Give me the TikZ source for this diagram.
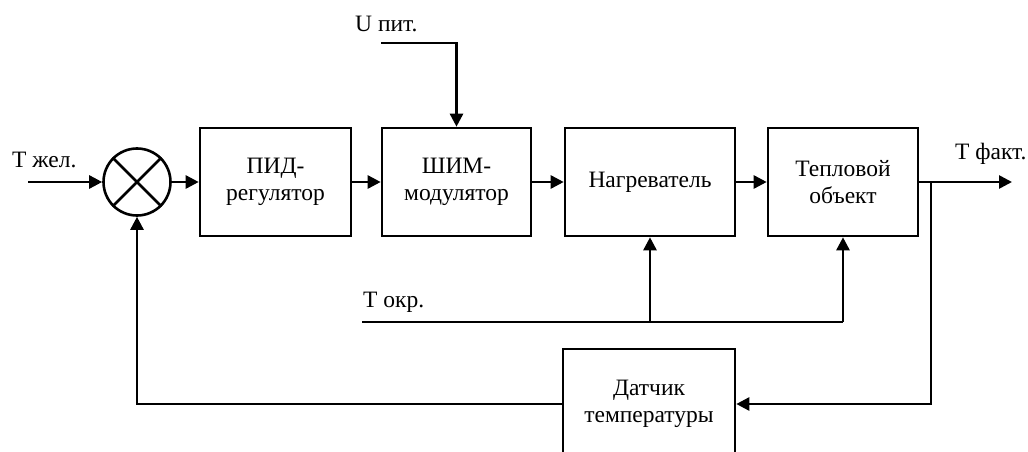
\documentclass[tikz,border=0pt]{standalone}
\usepackage{fontspec}
\setmainfont{Liberation Serif}
\usetikzlibrary{arrows.meta,calc}
\begin{document}
\begin{tikzpicture}[x=1pt,y=-1pt,
  txt/.style={font=\fontsize{23.5}{27}\selectfont},
  blk/.style={draw,line width=2.6pt,rectangle,minimum height=108pt,align=center,txt,inner sep=0pt},
  ln/.style={line width=2.6pt},
  arr/.style={ln,-{Triangle[length=13pt,width=13pt]}},
  lbl/.style={txt,inner sep=0pt,anchor=base west}]
\useasboundingbox (0,0) rectangle (1028,452);
\clip (0,0) rectangle (1028,452);
% blocks
\node[blk,minimum width=151pt] (pid) at (275.5,182) {ПИД-\\регулятор};
\node[blk,minimum width=149pt] (pwm) at (456.5,182) {ШИМ-\\модулятор};
\node[blk,minimum width=170pt] (heat) at (650,182) {Нагреватель};
\node[blk,minimum width=150pt] (obj) at (843,182) {Тепловой\\объект};
\node[blk,minimum width=172pt,minimum height=110pt] (sens) at (649,404) {Датчик\\температуры};
% summing junction
\node[draw,circle,ln,minimum size=67pt,inner sep=0pt] (sum) at (137,182) {};
\draw[ln] (sum.north west) -- (sum.south east);
\draw[ln] (sum.north east) -- (sum.south west);
% labels
\node[lbl] (tzel) at (12,167) {Т жел.};
\node[lbl] (upit) at (355,32) {U пит.};
\node[lbl] (tfakt) at (955,159) {Т факт.};
\node[lbl] (tokr) at (363,307) {Т окр.};
% coordinates
\coordinate (in) at (28,182);
\coordinate (out) at (1012,182);
\coordinate (br) at (931,182);
\coordinate (ustart) at (381,43);
\coordinate (tstart) at (362,322);
% main path
\draw[arr] (in) -- (sum.west);
\draw[arr] (sum.east) -- (pid.west);
\draw[arr] (pid.east) -- (pwm.west);
\draw[arr] (pwm.east) -- (heat.west);
\draw[arr] (heat.east) -- (obj.west);
\draw[arr] (obj.east) -- (out);
% supply
\draw[arr] (ustart) -| (pwm.north);
% ambient
\draw[ln] (tstart) -- (tstart -| obj.south);
\draw[arr] (tstart -| heat.south) -- (heat.south);
\draw[arr] (tstart -| obj.south) -- (obj.south);
% feedback
\draw[arr] (br) |- (sens.east);
\draw[arr] (sens.west) -| (sum.south);
\end{tikzpicture}
\end{document}
